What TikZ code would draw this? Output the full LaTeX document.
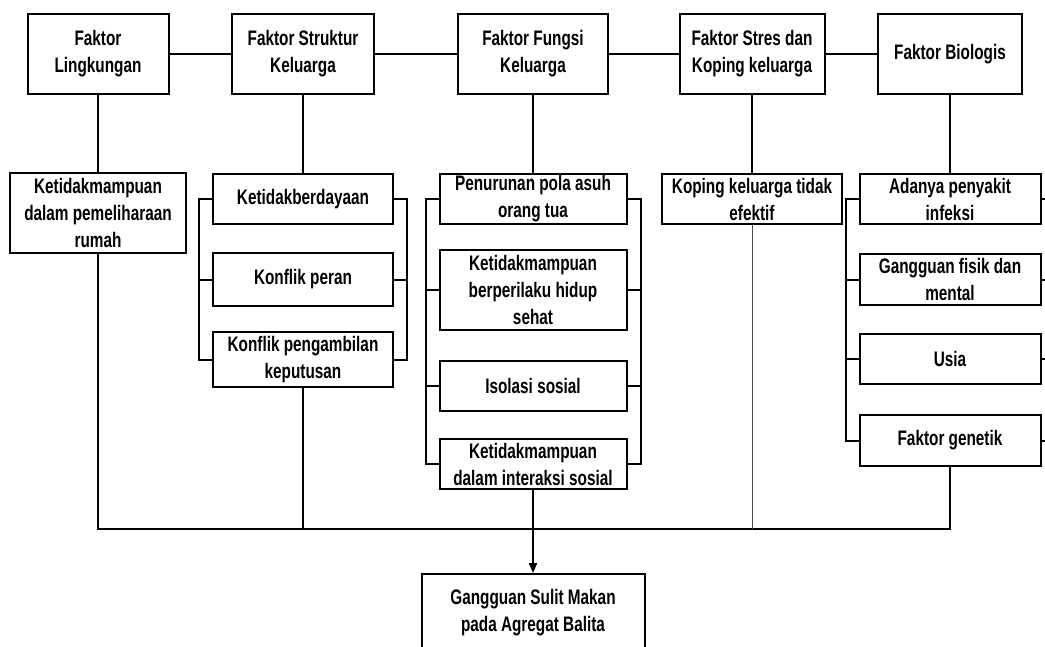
\documentclass[tikz,border=0pt]{standalone}
\usepackage{fontspec}
\setmainfont{Liberation Sans}[FakeStretch=0.73]
\usepackage{tikz}
\usetikzlibrary{arrows.meta,positioning}

\begin{document}
\begin{tikzpicture}[x=1pt,y=-1pt,
    kotak/.style={draw,line width=2pt,align=center,inner sep=0pt,
      font=\fontsize{21}{27}\selectfont\bfseries},
    garis/.style={line width=2pt},
    tipis/.style={line width=1pt,gray!60!black}]
  \useasboundingbox (0,0) rectangle (1045,646);
  \def\tik{13}

  % faktor utama
  \node[kotak,minimum width=141,minimum height=80] (fl) at (98,54) {Faktor\\Lingkungan};
  \node[kotak,minimum width=142,minimum height=80] (fs) at (303,54) {Faktor Struktur\\Keluarga};
  \node[kotak,minimum width=150,minimum height=80] (ff) at (533,54) {Faktor Fungsi\\Keluarga};
  \node[kotak,minimum width=145,minimum height=80] (fk) at (752,54) {Faktor Stres dan\\Koping keluarga};
  \node[kotak,minimum width=144,minimum height=80] (fb) at (950,54) {Faktor Biologis};

  % masalah per faktor
  \node[kotak,minimum width=176,minimum height=80] (l1) at (98,213) {Ketidakmampuan\\dalam pemeliharaan\\rumah};

  \node[kotak,minimum width=180,minimum height=50] (s1) at (303,199) {Ketidakberdayaan};
  \node[kotak,minimum width=180,minimum height=53] (s2) at (303,279.5) {Konflik peran};
  \node[kotak,minimum width=180,minimum height=55] (s3) at (303,359.5) {Konflik pengambilan\\keputusan};

  \node[kotak,minimum width=187,minimum height=50] (f1) at (533,199) {Penurunan pola asuh\\orang tua};
  \node[kotak,minimum width=187,minimum height=80] (f2) at (533,290) {Ketidakmampuan\\berperilaku hidup\\sehat};
  \node[kotak,minimum width=187,minimum height=50] (f3) at (533,386) {Isolasi sosial};
  \node[kotak,minimum width=187,minimum height=50] (f4) at (533,464) {Ketidakmampuan\\dalam interaksi sosial};

  \node[kotak,minimum width=180,minimum height=50] (k1) at (752,199) {Koping keluarga tidak\\efektif};

  \node[kotak,minimum width=181,minimum height=50] (b1) at (950,199) {Adanya penyakit\\infeksi};
  \node[kotak,minimum width=181,minimum height=51] (b2) at (950,279.5) {Gangguan fisik dan\\mental};
  \node[kotak,minimum width=181,minimum height=50] (b3) at (950,359) {Usia};
  \node[kotak,minimum width=181,minimum height=51] (b4) at (950,440.5) {Faktor genetik};

  \node[kotak,minimum width=223,minimum height=78] (g) at (533,613) {Gangguan Sulit Makan\\pada Agregat Balita};

  \coordinate (bus) at (0,529);

  % garis antar faktor
  \draw[garis] (fl) -- (fs);
  \draw[garis] (fs) -- (ff);
  \draw[garis] (ff) -- (fk);
  \draw[garis] (fk) -- (fb);

  \draw[garis] (fl) -- (l1);
  \draw[garis] (fs) -- (s1);
  \draw[garis] (ff) -- (f1);
  \draw[garis] (fk) -- (k1);
  \draw[garis] (fb) -- (b1);

  % kurung
  \draw[garis] (s1.west) -- ++(-\tik,0) |- (s3.west);
  \draw[garis] (s1.east) -- ++(\tik,0) |- (s3.east);
  \draw[garis] (s2.west) -- ++(-\tik,0);
  \draw[garis] (s2.east) -- ++(\tik,0);

  \draw[garis] (f1.west) -- ++(-\tik,0) |- (f4.west);
  \draw[garis] (f1.east) -- ++(\tik,0) |- (f4.east);
  \foreach \n in {f2,f3} {
    \draw[garis] (\n.west) -- ++(-\tik,0);
    \draw[garis] (\n.east) -- ++(\tik,0);
  }

  \draw[garis] (b1.west) -- ++(-\tik,0) |- (b4.west);
  \foreach \n in {b2,b3} \draw[garis] (\n.west) -- ++(-\tik,0);
  \foreach \n in {b1,b2,b3,b4} \draw[garis] (\n.east) -- ++(6,0);

  % garis ke bawah
  \draw[garis] (l1.south) |- (b4.south |- bus) -- (b4.south);
  \draw[garis] (s3.south) -- (s3.south |- bus);
  \draw[tipis] (k1.south) -- (k1.south |- bus);
  \draw[garis,-{Triangle[length=10pt,width=8pt]}] (f4) -- (g);
\end{tikzpicture}
\end{document}
